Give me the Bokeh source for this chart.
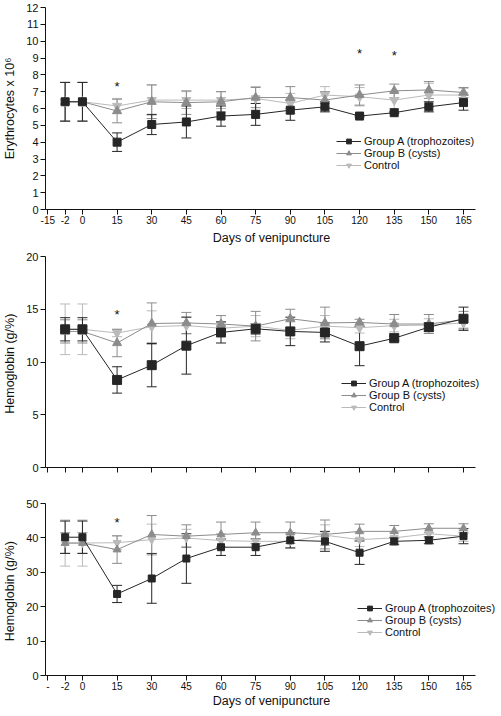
from bokeh.plotting import figure
from bokeh.models import (Range1d, FixedTicker, SingleIntervalTicker, ColumnDataSource,
                          Whisker, TeeHead, Legend, LegendItem, Label)
from bokeh.layouts import column
from bokeh.embed import file_html
from bokeh.resources import INLINE
from bokeh.core.properties import value

FONT = "Liberation Sans"

# ---------------- data ----------------
days = [-2, 0, 15, 30, 45, 60, 75, 90, 105, 120, 135, 150, 165]
tick_labels = ["-15", "-2", "0", "15", "30", "45", "60", "75", "90", "105", "120", "135", "150", "165"]
tick_labels_c = ["-", "-2", "0", "15", "30", "45", "60", "75", "90", "105", "120", "135", "150", "165"]
# axis is broken before 0: "-2" sits half way between -15 and 0
tick_pos = [-15, -7.5, 0, 15, 30, 45, 60, 75, 90, 105, 120, 135, 150, 165]

series_names = ["Group A (trophozoites)", "Group B (cysts)", "Control"]

# (A) Erythrocytes x 10^6
ery_a = [6.4, 6.4, 4.0, 5.05, 5.2, 5.55, 5.65, 5.9, 6.1, 5.55, 5.75, 6.1, 6.35]
ery_a_sd = [1.15, 1.15, 0.55, 0.6, 0.95, 0.6, 0.65, 0.6, 0.3, 0.05, 0.05, 0.3, 0.45]
ery_b = [6.4, 6.4, 5.85, 6.4, 6.35, 6.4, 6.65, 6.65, 6.5, 6.8, 7.05, 7.1, 6.95]
ery_b_sd = [1.15, 1.15, 0.7, 1.0, 0.7, 0.6, 0.6, 0.65, 0.5, 0.6, 0.4, 0.5, 0.3]
ery_c = [6.4, 6.4, 6.15, 6.5, 6.5, 6.5, 6.6, 6.3, 6.8, 6.7, 6.5, 6.8, 6.8]
ery_c_sd = [1.15, 1.15, 0.45, 0.9, 0.5, 0.5, 0.7, 0.6, 0.5, 0.55, 0.5, 0.7, 0.4]
ery_sig_days = [15, 120, 135]
ery_sig_y = [7.3, 9.25, 9.15]

# (B) Hemoglobin (g/%)
hb_a = [13.1, 13.1, 8.3, 9.7, 11.55, 12.8, 13.15, 12.9, 12.8, 11.5, 12.25, 13.3, 14.1]
hb_a_sd = [1.1, 1.1, 1.25, 2.05, 2.7, 1.0, 0.5, 1.35, 0.9, 1.85, 0.2, 0.4, 1.1]
hb_b = [12.9, 12.9, 11.8, 13.65, 13.7, 13.6, 13.4, 14.1, 13.7, 13.75, 13.6, 13.6, 14.0]
hb_b_sd = [1.1, 1.1, 1.3, 1.95, 1.0, 0.8, 1.4, 0.9, 1.5, 0.3, 0.9, 0.9, 0.8]
hb_c = [13.1, 13.1, 12.75, 13.35, 13.45, 13.2, 13.4, 13.0, 13.4, 13.25, 13.45, 13.5, 13.7]
hb_c_sd = [2.4, 2.4, 0.35, 1.5, 0.8, 0.6, 1.0, 0.8, 1.0, 0.5, 0.6, 0.6, 0.6]
hb_sig_days = [15]
hb_sig_y = [14.5]

# (C) Hemoglobin (g/%)
hc_a = [40.2, 40.2, 23.7, 28.2, 34.0, 37.3, 37.3, 39.3, 39.0, 35.7, 39.0, 39.3, 40.5]
hc_a_sd = [4.7, 4.7, 2.5, 7.2, 7.2, 2.4, 2.4, 2.2, 2.9, 3.4, 1.0, 1.0, 2.2]
hc_b = [38.5, 38.5, 36.6, 41.0, 40.5, 41.0, 41.5, 41.5, 41.0, 41.9, 41.9, 42.8, 42.8]
hc_b_sd = [3.0, 3.0, 4.0, 5.5, 3.3, 3.6, 3.1, 3.1, 4.2, 2.1, 1.7, 1.3, 1.3]
hc_c = [38.5, 38.5, 38.6, 39.5, 40.0, 39.2, 39.0, 39.0, 40.8, 39.5, 40.0, 41.2, 40.5]
hc_c_sd = [6.7, 6.7, 2.0, 4.5, 2.5, 2.0, 2.0, 2.0, 3.0, 2.0, 1.5, 1.5, 1.5]
hc_sig_days = [15]
hc_sig_y = [44.6]

COLORS = ["#262626", "#8c8c8c", "#bababa"]
MARKERS = ["square", "triangle", "inverted_triangle"]

X_MIN, X_AXIS_END, FRAME_W = -16, 170.2, 452
PX_PER_DAY = 430 / (X_AXIS_END - X_MIN)
X_MAX = X_MIN + FRAME_W / PX_PER_DAY


def pos_of(d):
    return tick_pos[tick_labels.index(str(d))]


def make_panel(letter, ylabel, ymax, yint, series, sig_days, sig_y, labels, show_x,
               frame_h, top_b, bottom_b, leg_xy, msizes, title_gap=4):
    p = figure(frame_width=FRAME_W, frame_height=frame_h, output_backend="svg",
               toolbar_location=None, min_border_left=44, min_border_right=0,
               min_border_top=top_b, min_border_bottom=bottom_b,
               x_range=Range1d(X_MIN, X_MAX), y_range=Range1d(0, ymax))
    p.outline_line_color = None
    p.xgrid.visible = False
    p.ygrid.visible = False

    xs = [pos_of(d) for d in days]
    renders = []
    # draw control first, group A last (on top)
    for i in [2, 1, 0]:
        m, sd = series[i]
        src = ColumnDataSource(dict(x=xs, y=m,
                                    upper=[a + b for a, b in zip(m, sd)],
                                    lower=[a - b for a, b in zip(m, sd)]))
        c = COLORS[i]
        w = Whisker(base="x", upper="upper", lower="lower", source=src,
                    line_color=c, line_width=1,
                    upper_head=TeeHead(size=10, line_color=c, line_width=1),
                    lower_head=TeeHead(size=10, line_color=c, line_width=1))
        p.add_layout(w)
        ln = p.line("x", "y", source=src, line_color=c, line_width=1)
        sc = p.scatter("x", "y", source=src, marker=MARKERS[i], size=msizes[i],
                       fill_color=c, line_color=c)
        renders.append((i, ln, sc))
    renders.sort(key=lambda t: t[0])
    items = [LegendItem(label=series_names[i], renderers=[ln, sc]) for i, ln, sc in renders]
    leg = Legend(items=items, location=leg_xy, glyph_width=25, glyph_height=12,
                 label_height=12, spacing=0, padding=0, margin=0, label_standoff=3,
                 border_line_alpha=0, background_fill_alpha=0,
                 label_text_font=FONT, label_text_font_size="11px",
                 label_text_color="#111111")
    p.add_layout(leg)

    p.text(x=[pos_of(d) for d in sig_days], y=sig_y, text=["*"] * len(sig_days),
           text_align="center", text_baseline="middle", text_font=value(FONT),
           text_font_size="13px", text_color="#111111")

    # axes
    for ax in [p.xaxis[0], p.yaxis[0]]:
        ax.axis_line_color = "#111111"
        ax.major_tick_line_color = "#111111"
        ax.major_tick_in = 0
        ax.major_tick_out = 5
        ax.minor_tick_out = 0
        ax.minor_tick_in = 0
        ax.major_label_text_font = FONT
        ax.major_label_text_color = "#111111"
        ax.axis_label_text_font = FONT
        ax.axis_label_text_font_style = "normal"
        ax.axis_label_text_font_size = "12.5px"
        ax.axis_label_text_color = "#111111"

    p.yaxis.ticker = SingleIntervalTicker(interval=yint, num_minor_ticks=0)
    p.yaxis.major_label_text_font_size = "11px"
    p.yaxis.major_label_standoff = 2
    p.yaxis.axis_label = ylabel
    p.yaxis.axis_label_standoff = 6

    p.xaxis.bounds = (X_MIN, X_AXIS_END)
    p.xaxis.ticker = FixedTicker(ticks=tick_pos, minor_ticks=[])
    p.xaxis.major_label_text_font_size = "10px"
    p.xaxis.major_label_standoff = 1
    if show_x:
        p.xaxis.major_label_overrides = {t: l for t, l in zip(tick_pos, labels)}
        p.xaxis.axis_label = "Days of venipuncture"
        p.xaxis.axis_label_standoff = title_gap
    else:
        p.xaxis.major_label_overrides = {t: "" for t in tick_pos}
        p.xaxis.major_label_text_font_size = "0px"
        p.xaxis.major_label_standoff = 0

    p.add_layout(Label(x=-42, y=ymax, x_units="screen", y_units="data", text=letter,
                       text_font=FONT, text_font_size="13px", text_baseline="middle",
                       text_color="#111111"))
    return p


pa = make_panel("(A)", "Erythrocytes x 10\u2076", 12, 1,
                [(ery_a, ery_a_sd), (ery_b, ery_b_sd), (ery_c, ery_c_sd)],
                ery_sig_days, ery_sig_y, tick_labels, True,
                202, 7, 30, (291, 38), [8, 9, 9])
pb = make_panel("(B)", "Hemoglobin  (g/%)", 20, 5,
                [(hb_a, hb_a_sd), (hb_b, hb_b_sd), (hb_c, hb_c_sd)],
                hb_sig_days, hb_sig_y, tick_labels, False,
                211, 9, 10, (296, 54), [9, 9, 9])
pc = make_panel("(C)", "Hemoglobin  (g/%)", 50, 10,
                [(hc_a, hc_a_sd), (hc_b, hc_b_sd), (hc_c, hc_c_sd)],
                hc_sig_days, hc_sig_y, tick_labels_c, True,
                172, 26, 26, (312, 37), [7, 8, 8], title_gap=1)

layout = column(pa, pb, pc, spacing=0)
open("out.html", "w").write(file_html(layout, INLINE))
